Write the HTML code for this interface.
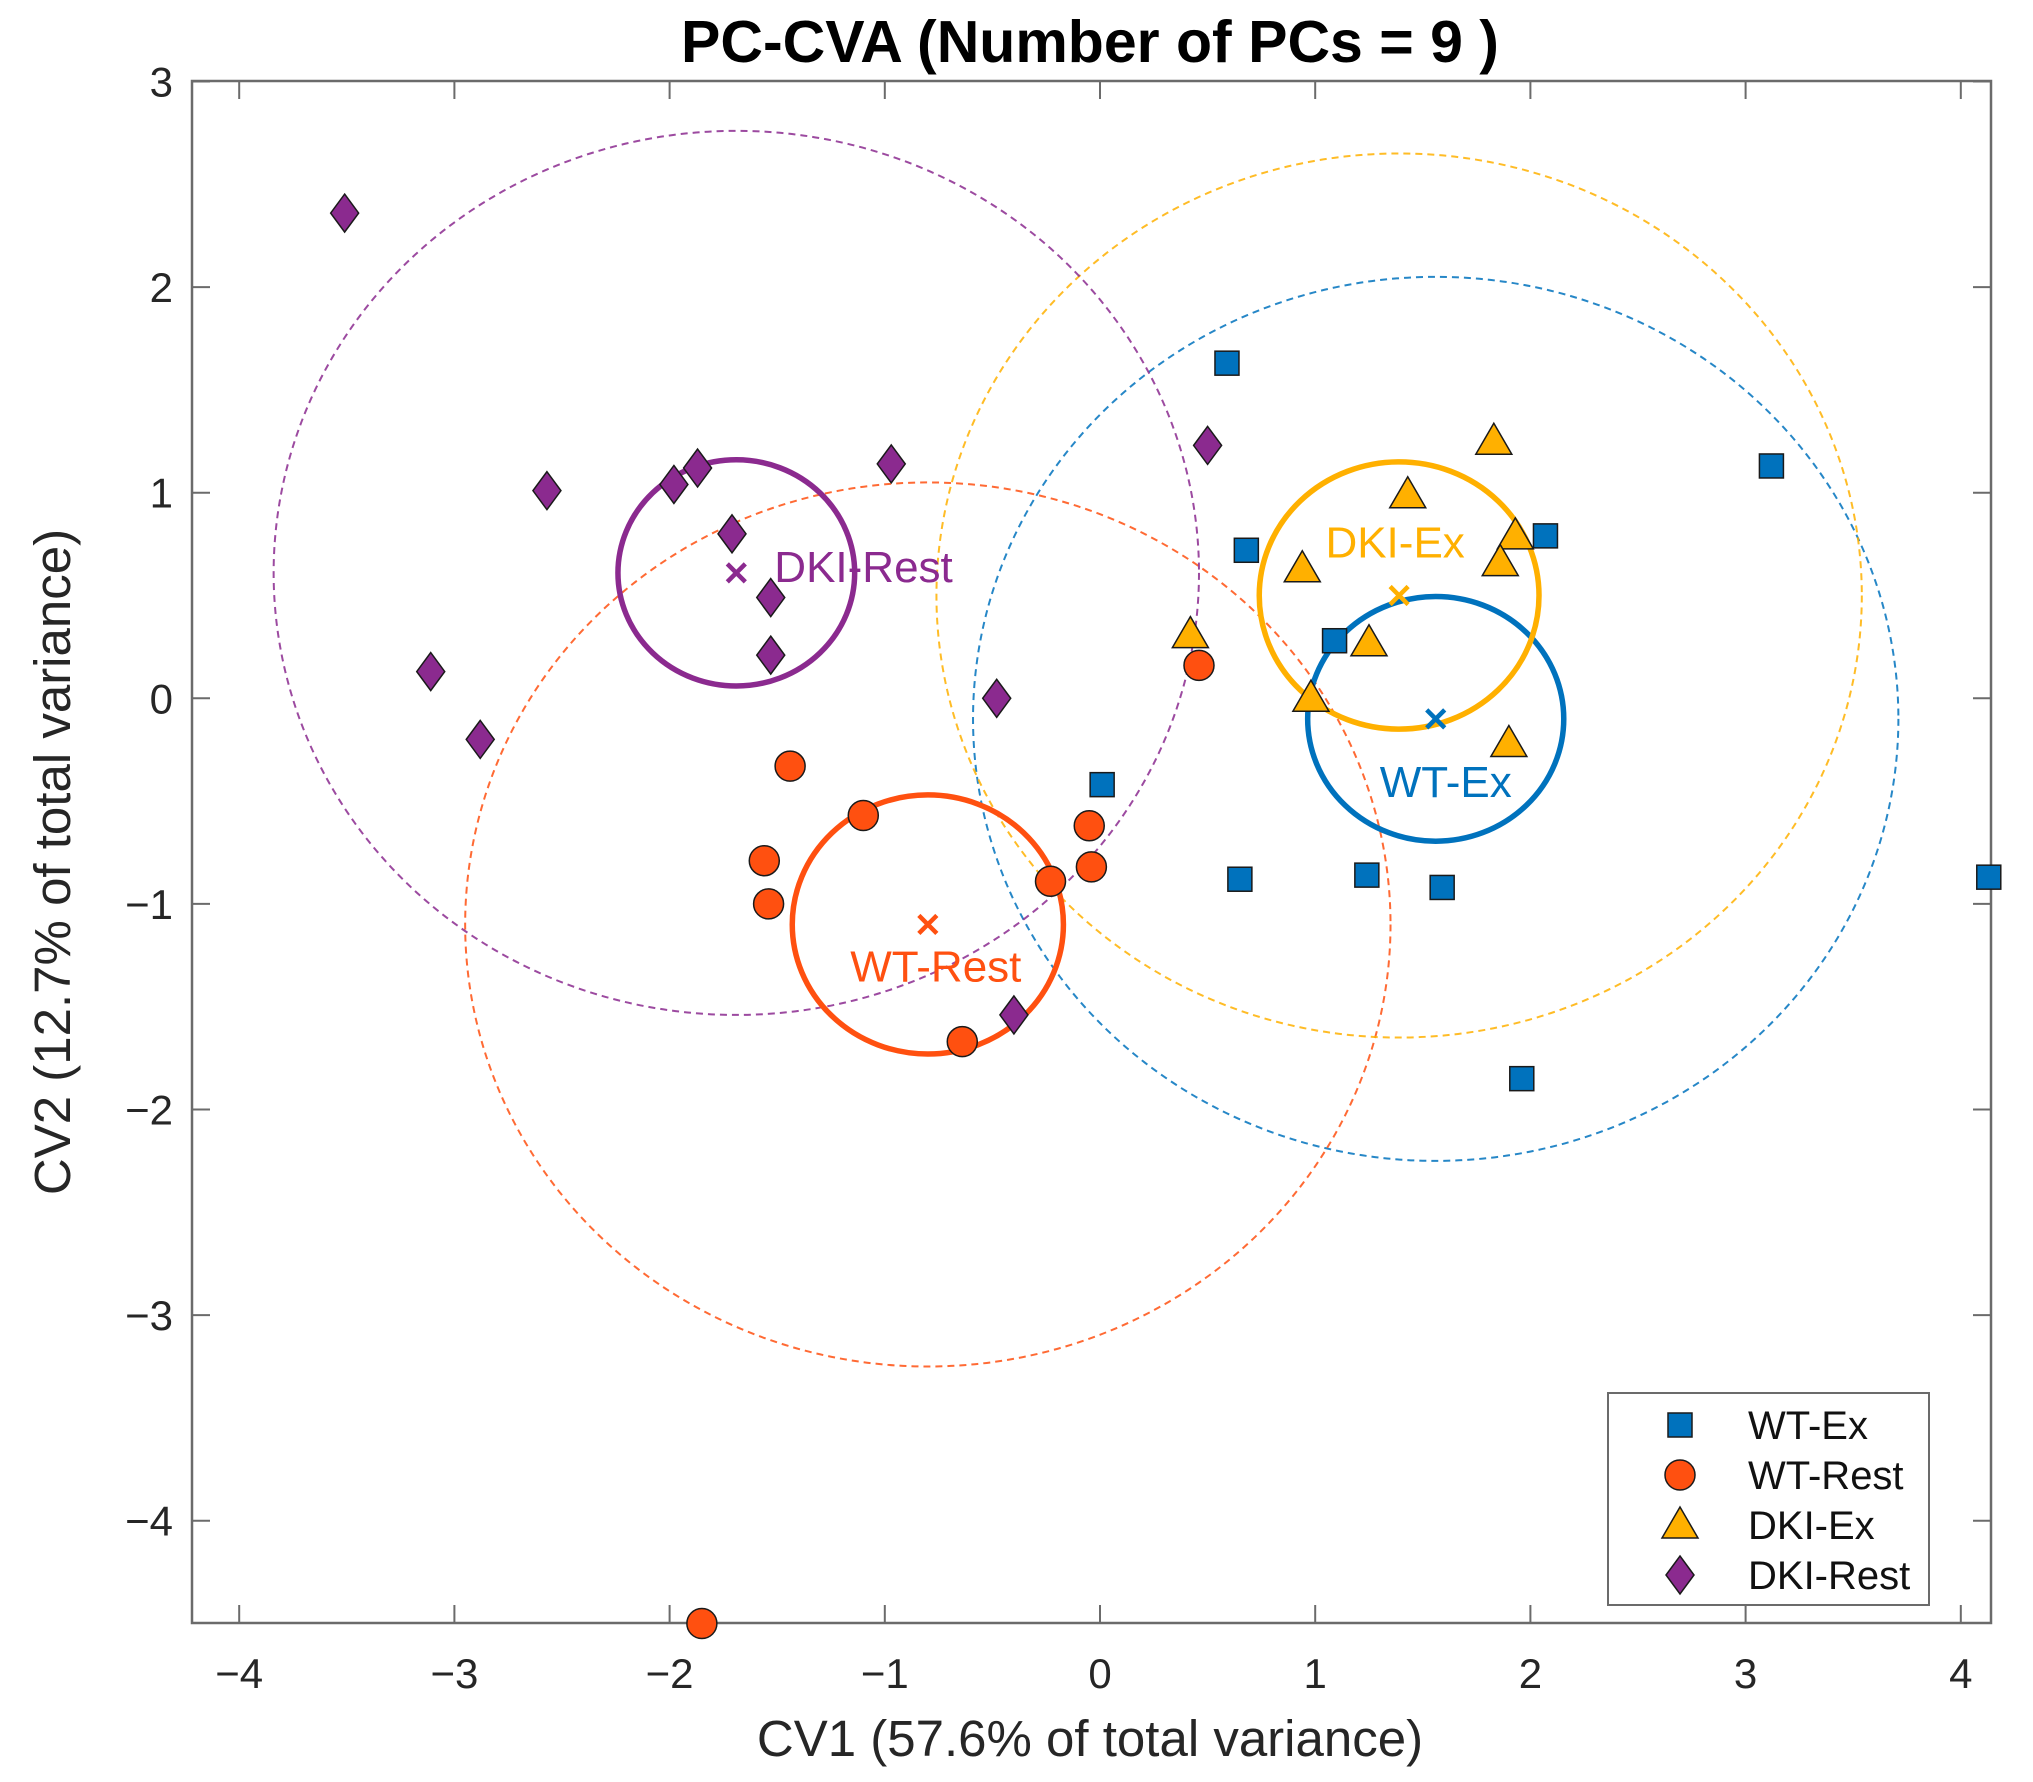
<!DOCTYPE html>
<html><head><meta charset="utf-8">
<style>
html,body{margin:0;padding:0;background:#fff;}
svg{display:block;font-family:"Liberation Sans",Arial,sans-serif;}
</style></head>
<body>
<svg id="chart" width="2033" height="1782" viewBox="0 0 2033 1782" xmlns="http://www.w3.org/2000/svg">
<text x="1090" y="62" text-anchor="middle" font-size="59" font-weight="bold">PC-CVA (Number of PCs = 9 )</text>
<text x="1090" y="1756" text-anchor="middle" font-size="51" fill="#262626">CV1 (57.6% of total variance)</text>
<text transform="translate(70,862) rotate(-90)" text-anchor="middle" font-size="51" fill="#262626">CV2 (12.7% of total variance)</text>
<g id="plot"></g>
</svg>
<script>
const xTicks=[-4,-3,-2,-1,0,1,2,3,4];
const yTicks=[3,2,1,0,-1,-2,-3,-4];
const groupNames=["WT-Ex","WT-Rest","DKI-Ex","DKI-Rest"];
const wtExX=[0.59,0.68,1.09,2.07,3.12,0.01,0.65,1.24,1.59,1.96,4.13];
const wtExY=[1.63,0.72,0.28,0.79,1.13,-0.42,-0.88,-0.86,-0.92,-1.85,-0.87];
const wtRestX=[-1.44,-1.10,-1.56,-1.54,-0.05,-0.04,-0.23,-0.64,0.46,-1.85];
const wtRestY=[-0.33,-0.57,-0.79,-1.00,-0.62,-0.82,-0.89,-1.67,0.16,-4.50];
const dkiExX=[0.42,0.94,1.43,1.83,1.93,1.86,1.25,0.98,1.90];
const dkiExY=[0.31,0.63,0.99,1.25,0.79,0.66,0.27,0.00,-0.22];
const dkiRestX=[-3.51,-2.57,-1.98,-1.87,-1.71,-1.53,-1.53,-0.97,-3.11,-2.88,-0.48,0.50,-0.40];
const dkiRestY=[2.36,1.01,1.04,1.12,0.80,0.49,0.21,1.14,0.13,-0.20,0.00,1.23,-1.54];
const centroidX=[1.56,-0.80,1.39,-1.69];
const centroidY=[-0.10,-1.10,0.50,0.61];
const innerRadius=[0.595,0.63,0.65,0.55];
const outerRadius=[2.15,2.15,2.15,2.15];

const colors=["#0072BD","#FF5010","#FFB000","#8B2A8F"];
const X0=1100,XU=215.2,Y0=698.3,YU=205.6;
const L=192,R=1991,T=81,B=1623;
function sx(v){return X0+v*XU;}
function sy(v){return Y0-v*YU;}
const NS="http://www.w3.org/2000/svg";
const g=document.getElementById('plot');
function mk(tag,attrs,parent){const e=document.createElementNS(NS,tag);for(const k in attrs)e.setAttribute(k,attrs[k]);(parent||g).appendChild(e);return e;}

let box=mk('rect',{x:L,y:T,width:R-L,height:B-T,fill:'none',stroke:'#6b6b6b','stroke-width':2.5});


xTicks.forEach(v=>{
  const x=sx(v);
  let t1=mk('line',{x1:x,x2:x,y1:B,y2:B-18,stroke:'#6b6b6b','stroke-width':2});
  
  
  let t2=mk('line',{x1:x,x2:x,y1:T,y2:T+18,stroke:'#6b6b6b','stroke-width':2});
  
  
  let lb=mk('text',{x:x,y:1688,'text-anchor':'middle','font-size':42,fill:'#262626'});
  lb.textContent=(v<0?'\u2212'+(-v):String(v));
  
  
});
yTicks.forEach(v=>{
  const y=sy(v);
  let t1=mk('line',{x1:L,x2:L+18,y1:y,y2:y,stroke:'#6b6b6b','stroke-width':2});
  
  
  let t2=mk('line',{x1:R,x2:R-18,y1:y,y2:y,stroke:'#6b6b6b','stroke-width':2});
  
  
  let lb=mk('text',{x:173,y:y+15,'text-anchor':'end','font-size':42,fill:'#262626'});
  lb.textContent=(v<0?'\u2212'+(-v):String(v));
  
  
});

const clip=mk('clipPath',{id:'pc'});
mk('rect',{x:L,y:T,width:R-L,height:B-T},clip);
const pg=mk('g',{'clip-path':'url(#pc)'});

for(let i=0;i<4;i++){
  const cx=sx(centroidX[i]),cy=sy(centroidY[i]);
  let o=mk('ellipse',{cx:cx,cy:cy,rx:outerRadius[i]*XU,ry:outerRadius[i]*YU,fill:'none',stroke:colors[i],'stroke-width':2,'stroke-dasharray':'7 5',opacity:0.85},pg);
  
  
}
for(let i=0;i<4;i++){
  const cx=sx(centroidX[i]),cy=sy(centroidY[i]);
  let c=mk('ellipse',{cx:cx,cy:cy,rx:innerRadius[i]*XU,ry:innerRadius[i]*YU,fill:'none',stroke:colors[i],'stroke-width':5.5},pg);
  
  
}

function marker(kind,x,y,parent){
  let e;
  if(kind===0) e=mk('rect',{x:x-12,y:y-12,width:24,height:24,fill:colors[0],stroke:'#1a1a1a','stroke-width':1.5},parent);
  else if(kind===1) e=mk('circle',{cx:x,cy:y,r:15,fill:colors[1],stroke:'#1a1a1a','stroke-width':1.5},parent);
  else if(kind===2) e=mk('polygon',{points:`${x},${y-18} ${x+18},${y+13} ${x-18},${y+13}`,fill:colors[2],stroke:'#1a1a1a','stroke-width':1.5},parent);
  else e=mk('polygon',{points:`${x},${y-19} ${x+14},${y} ${x},${y+19} ${x-14},${y}`,fill:colors[3],stroke:'#1a1a1a','stroke-width':1.5},parent);
  return e;
}
const sets=[[wtExX,wtExY],[wtRestX,wtRestY],[dkiExX,dkiExY],[dkiRestX,dkiRestY]];
const order=[3,1,2,0];
const ptsG=mk('g',{});
order.forEach(k=>{
  const [xs,ys]=sets[k];
  xs.forEach((v,j)=>{
    const e=marker(k,sx(v),sy(ys[j]),ptsG);
    
    
  });
});

const labelDX=[10,8,-4,38];
const labelDY=[62,41,-54,-7];
const labelAnchor=['middle','middle','middle','start'];
for(let i=0;i<4;i++){
  const cx=sx(centroidX[i]),cy=sy(centroidY[i]);
  let m=mk('path',{d:`M${cx-9},${cy-9}L${cx+9},${cy+9}M${cx+9},${cy-9}L${cx-9},${cy+9}`,stroke:colors[i],'stroke-width':4.5});
  
  
  let t=mk('text',{x:cx+labelDX[i],y:cy+labelDY[i]+16,'font-size':44,fill:colors[i],'text-anchor':labelAnchor[i]});
  t.textContent=groupNames[i];
  
  
}

const lg=mk('g',{});


mk('rect',{x:1608,y:1393,width:321,height:212,fill:'#fff',stroke:'#6b6b6b','stroke-width':2},lg);
for(let i=0;i<4;i++){
  const y=1425+i*50;
  const e=marker(i,1680,y,lg);
  
  
  const t=mk('text',{x:1748,y:y+14,'font-size':40,fill:'#111'},lg);
  t.textContent=groupNames[i];
  
  
}
</script>
</body></html>
